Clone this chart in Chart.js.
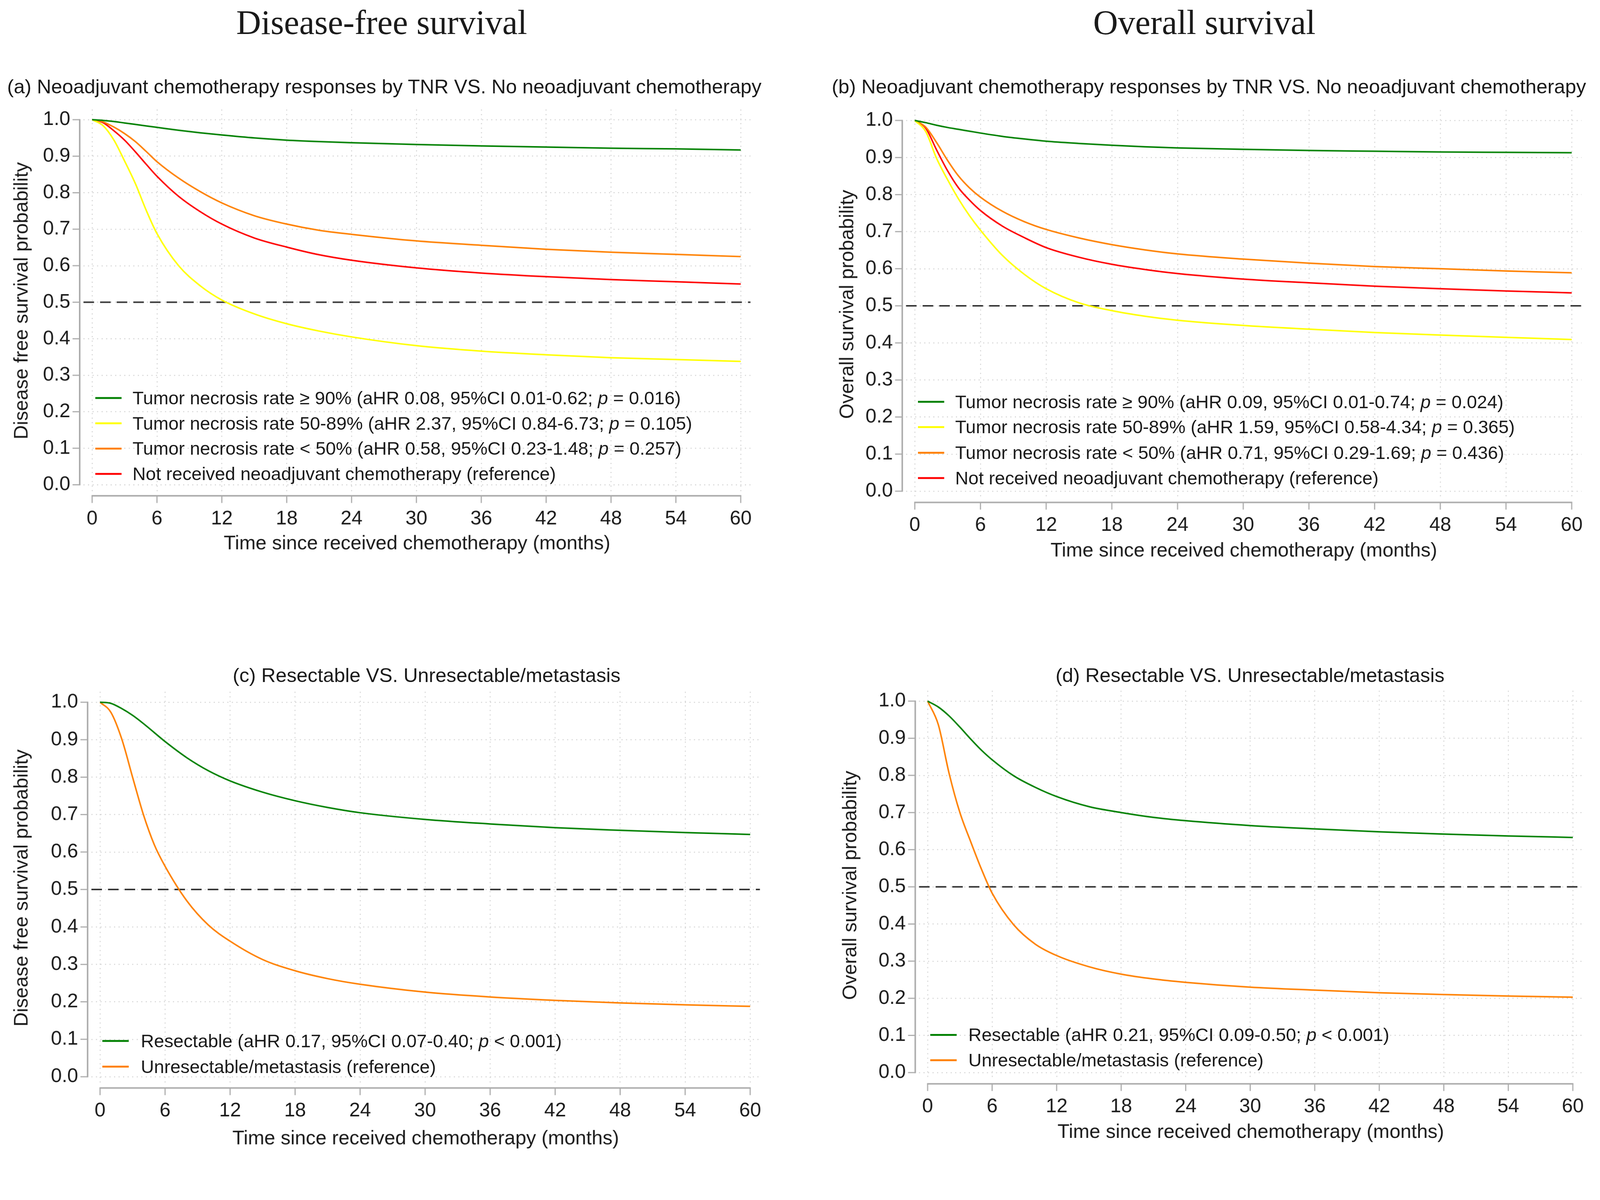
<!DOCTYPE html>
<html>
<head>
<meta charset="utf-8">
<script src="https://cdn.jsdelivr.net/npm/chart.js@4.4.1/dist/chart.umd.min.js"></script>
<style>
  html, body { margin: 0; padding: 0; background: #fff; overflow: hidden; }
  #page { width: 4238px; height: 3072px; position: absolute; left: 0; top: 0; overflow: hidden;
          transform-origin: 0 0; font-family: "Liberation Sans", Arial, sans-serif; color: #1a1a1a; }
  canvas { position: absolute; }
  .col-head { position: absolute; font-family: "Liberation Serif", serif; font-size: 91px;
              transform: translate(-50%, -50%); white-space: nowrap; line-height: 1; }
  .panel-title { position: absolute; font-size: 52.5px; transform: translate(-50%, -50%);
                 white-space: nowrap; line-height: 1; }
  .legend-row { position: absolute; display: flex; align-items: center; transform: translateY(-50%);
                font-size: 48.5px; white-space: nowrap; line-height: 1; }
  .legend-row .swatch { width: 70px; height: 5px; flex: none; }
</style>
</head>
<body>
<div id="page">
  <div class="col-head" style="left:1011px; top:59px;">Disease-free survival</div>
  <div class="col-head" style="left:3190px; top:59px;">Overall survival</div>
</div>

<script>
// ---- data ----
const months = [0, 1, 2, 3, 4, 5, 6, 8, 10, 12, 15, 18, 21, 24, 30, 36, 42, 48, 54, 60];
const xTicks = [0, 6, 12, 18, 24, 30, 36, 42, 48, 54, 60];
const yTicks = [0.0, 0.1, 0.2, 0.3, 0.4, 0.5, 0.6, 0.7, 0.8, 0.9, 1.0];
const medianLevel = 0.5;

// (a) disease-free survival by TNR
const dfsTnr90   = [1.0, 0.998, 0.995, 0.991, 0.987, 0.983, 0.979, 0.971, 0.964, 0.958, 0.950, 0.944, 0.940, 0.937, 0.932, 0.928, 0.925, 0.922, 0.920, 0.917];
const dfsTnr5089 = [1.0, 0.984, 0.945, 0.887, 0.825, 0.752, 0.688, 0.600, 0.545, 0.506, 0.468, 0.441, 0.421, 0.405, 0.381, 0.366, 0.356, 0.348, 0.343, 0.338];
const dfsTnrLt50 = [1.0, 0.994, 0.980, 0.962, 0.940, 0.913, 0.885, 0.840, 0.803, 0.772, 0.737, 0.714, 0.697, 0.686, 0.668, 0.656, 0.645, 0.637, 0.631, 0.625];
const dfsNoNeo   = [1.0, 0.992, 0.970, 0.944, 0.912, 0.878, 0.845, 0.790, 0.748, 0.714, 0.676, 0.651, 0.630, 0.615, 0.594, 0.580, 0.570, 0.562, 0.556, 0.550];

// (b) overall survival by TNR
const osTnr90   = [1.0, 0.994, 0.987, 0.981, 0.976, 0.971, 0.966, 0.957, 0.950, 0.944, 0.938, 0.933, 0.929, 0.926, 0.922, 0.919, 0.917, 0.915, 0.914, 0.913];
const osTnr5089 = [1.0, 0.970, 0.897, 0.840, 0.788, 0.743, 0.704, 0.636, 0.585, 0.546, 0.508, 0.487, 0.472, 0.461, 0.447, 0.437, 0.428, 0.421, 0.415, 0.409];
const osTnrLt50 = [1.0, 0.982, 0.940, 0.892, 0.850, 0.818, 0.793, 0.755, 0.727, 0.706, 0.683, 0.665, 0.651, 0.640, 0.626, 0.615, 0.606, 0.600, 0.594, 0.589];
const osNoNeo   = [1.0, 0.979, 0.920, 0.864, 0.818, 0.785, 0.757, 0.715, 0.684, 0.657, 0.631, 0.612, 0.598, 0.587, 0.572, 0.562, 0.553, 0.546, 0.540, 0.535];

// (c) disease-free survival by resectability
const dfsResect   = [1.0, 0.997, 0.983, 0.965, 0.943, 0.919, 0.895, 0.852, 0.817, 0.790, 0.760, 0.737, 0.719, 0.705, 0.687, 0.675, 0.665, 0.658, 0.652, 0.647];
const dfsUnresect = [1.0, 0.973, 0.902, 0.800, 0.700, 0.620, 0.562, 0.470, 0.405, 0.362, 0.313, 0.283, 0.262, 0.247, 0.226, 0.213, 0.204, 0.197, 0.192, 0.188];

// (d) overall survival by resectability
const osResect   = [1.0, 0.984, 0.960, 0.930, 0.898, 0.868, 0.842, 0.799, 0.768, 0.743, 0.716, 0.700, 0.687, 0.678, 0.665, 0.656, 0.648, 0.642, 0.637, 0.633];
const osUnresect = [1.0, 0.936, 0.805, 0.700, 0.622, 0.548, 0.483, 0.398, 0.346, 0.315, 0.285, 0.265, 0.252, 0.243, 0.230, 0.222, 0.215, 0.210, 0.206, 0.203];

const tnrLabelsDfs = [
  'Tumor necrosis rate \u2265 90% (aHR 0.08, 95%CI 0.01-0.62; p = 0.016)',
  'Tumor necrosis rate 50-89% (aHR 2.37, 95%CI 0.84-6.73; p = 0.105)',
  'Tumor necrosis rate < 50% (aHR 0.58, 95%CI 0.23-1.48; p = 0.257)',
  'Not received neoadjuvant chemotherapy (reference)'
];
const tnrLabelsOs = [
  'Tumor necrosis rate \u2265 90% (aHR 0.09, 95%CI 0.01-0.74; p = 0.024)',
  'Tumor necrosis rate 50-89% (aHR 1.59, 95%CI 0.58-4.34; p = 0.365)',
  'Tumor necrosis rate < 50% (aHR 0.71, 95%CI 0.29-1.69; p = 0.436)',
  'Not received neoadjuvant chemotherapy (reference)'
];
const resectLabelsDfs = ['Resectable (aHR 0.17, 95%CI 0.07-0.40; p < 0.001)', 'Unresectable/metastasis (reference)'];
const resectLabelsOs  = ['Resectable (aHR 0.21, 95%CI 0.09-0.50; p < 0.001)', 'Unresectable/metastasis (reference)'];

// ---- styling ----
const GREEN = '#008000', YELLOW = '#ffff00', ORANGE = '#ff8000', RED = '#ff0000';
const FONT = '"Liberation Sans", Arial, sans-serif';
const TEXT = '#1a1a1a';
const xMin = -0.8, xMax = 60.9, yMin = -0.02, yMax = 1.028;
const xTitle = 'Time since received chemotherapy (months)';

// fit the 4238x3072 layout into whatever viewport we get
const page = document.getElementById('page');
const fit = Math.min(window.innerWidth / 4238, window.innerHeight / 3072) || 1;
if (fit < 0.999) page.style.transform = 'scale(' + fit + ')';
const dpr = (window.devicePixelRatio || 1) * Math.max(fit, 1);

// Stata-like axes: offset axis lines + median reference line
const stataAxes = {
  id: 'stataAxes',
  beforeDatasetsDraw(chart) {
    const {ctx, chartArea: a, scales: {y}} = chart;
    const ym = y.getPixelForValue(medianLevel);
    ctx.save();
    ctx.strokeStyle = '#333';
    ctx.lineWidth = 4;
    ctx.setLineDash([28, 16]);
    ctx.beginPath();
    ctx.moveTo(a.left, ym);
    ctx.lineTo(a.right, ym);
    ctx.stroke();
    ctx.restore();
  },
  afterDraw(chart) {
    const {ctx, chartArea: a, scales: {x, y}} = chart;
    const gap = 10, tick = 19;
    ctx.save();
    ctx.strokeStyle = '#ababab';
    ctx.lineWidth = 4;
    const yb = a.bottom + gap;
    ctx.beginPath();
    ctx.moveTo(x.getPixelForValue(xTicks[0]) - 1.5, yb);
    ctx.lineTo(x.getPixelForValue(xTicks[xTicks.length - 1]) + 1.5, yb);
    ctx.stroke();
    const xl = a.left - gap;
    ctx.beginPath();
    ctx.moveTo(xl, y.getPixelForValue(yTicks[0]) + 1.5);
    ctx.lineTo(xl, y.getPixelForValue(yTicks[yTicks.length - 1]) - 1.5);
    ctx.stroke();
    ctx.lineWidth = 3;
    ctx.beginPath();
    xTicks.forEach(v => {
      const px = x.getPixelForValue(v);
      ctx.moveTo(px, yb);
      ctx.lineTo(px, yb + tick);
    });
    yTicks.forEach(v => {
      const py = y.getPixelForValue(v);
      ctx.moveTo(xl, py);
      ctx.lineTo(xl - tick, py);
    });
    ctx.stroke();
    ctx.restore();
  }
};

function addLegend(chart, p) {
  chart.data.datasets.forEach((ds, i) => {
    const row = document.createElement('div');
    row.className = 'legend-row';
    row.style.left = p.legendX + 'px';
    row.style.top = p.legendRows[i] + 'px';
    const sw = document.createElement('span');
    sw.className = 'swatch';
    sw.style.background = ds.borderColor;
    sw.style.marginRight = (p.legendTextX - p.legendX - 70) + 'px';
    row.appendChild(sw);
    const txt = document.createElement('span');
    const parts = ds.label.split('; p ');
    txt.appendChild(document.createTextNode(parts[0] + (parts.length > 1 ? '; ' : '')));
    if (parts.length > 1) {
      const it = document.createElement('i');
      it.textContent = 'p';
      txt.appendChild(it);
      txt.appendChild(document.createTextNode(' ' + parts[1]));
    }
    row.appendChild(txt);
    page.appendChild(row);
  });
}

function makePanel(p) {
  const ux = (p.px60 - p.px0) / 60, uy = p.py0 - p.py1;
  const cl = p.px0 + xMin * ux, cr = p.px0 + xMax * ux;
  const ct = p.py1 - (yMax - 1) * uy, cb = p.py0 - yMin * uy;
  const half = 52 * 1.2 / 2;

  const title = document.createElement('div');
  title.className = 'panel-title';
  title.style.left = p.titleX + 'px';
  title.style.top = p.titleY + 'px';
  title.textContent = p.title;
  page.appendChild(title);

  const canvas = document.createElement('canvas');
  canvas.style.left = p.left + 'px'; canvas.style.top = p.top + 'px';
  canvas.style.width = p.w + 'px'; canvas.style.height = p.h + 'px';
  canvas.width = p.w; canvas.height = p.h;
  page.appendChild(canvas);

  const gridOpts = { color: '#d2d2d2', lineWidth: 2.5, drawTicks: false };
  const chart = new Chart(canvas, {
    type: 'line',
    data: {
      datasets: p.series.map(s => ({
        label: s.label,
        data: months.map((m, i) => ({x: m, y: s.values[i]})),
        borderColor: s.color,
        backgroundColor: s.color,
        borderWidth: 4,
        pointRadius: 0,
        cubicInterpolationMode: 'monotone',
        fill: false
      }))
    },
    options: {
      responsive: false,
      animation: false,
      devicePixelRatio: dpr,
      layout: { padding: { left: 0, top: ct - p.top, right: p.left + p.w - cr, bottom: 0 } },
      plugins: { legend: { display: false }, tooltip: { enabled: false } },
      scales: {
        x: {
          type: 'linear', min: xMin, max: xMax,
          afterBuildTicks: s => { s.ticks = xTicks.map(v => ({value: v})); },
          afterFit: s => { s.height = p.top + p.h - cb; },
          grid: gridOpts,
          border: { display: false, dash: [3, 9] },
          ticks: { padding: 40, color: TEXT, font: { size: 52, family: FONT }, maxRotation: 0, autoSkip: false,
                   callback: v => String(v) },
          title: { display: true, text: xTitle, color: TEXT, font: { size: 52, family: FONT },
                   padding: { top: 0, bottom: p.top + p.h - p.xTitleY - half } }
        },
        y: {
          type: 'linear', min: yMin, max: yMax,
          afterBuildTicks: s => { s.ticks = yTicks.map(v => ({value: v})); },
          afterFit: s => { s.width = cl - p.left; },
          grid: gridOpts,
          border: { display: false, dash: [3, 9] },
          ticks: { padding: 35, color: TEXT, font: { size: 52, family: FONT }, autoSkip: false,
                   callback: v => v.toFixed(1) },
          title: { display: true, text: p.yTitle, color: TEXT, font: { size: 52, family: FONT },
                   padding: { top: p.yTitleX - p.left - half, bottom: 0 } }
        }
      }
    },
    plugins: [stataAxes]
  });
  addLegend(chart, p);
  return chart;
}

const panels = [
  {
    title: '(a) Neoadjuvant chemotherapy responses by TNR VS. No neoadjuvant chemotherapy',
    titleX: 1018, titleY: 230,
    yTitle: 'Disease free survival probability',
    left: 0, top: 150, w: 2110, h: 1350,
    px0: 244, px60: 1962, py1: 317, py0: 1284,
    xTitleY: 1441, yTitleX: 59,
    legendX: 252, legendTextX: 351, legendRows: [1054, 1121, 1188, 1255],
    series: [
      {label: tnrLabelsDfs[0], values: dfsTnr90, color: GREEN},
      {label: tnrLabelsDfs[1], values: dfsTnr5089, color: YELLOW},
      {label: tnrLabelsDfs[2], values: dfsTnrLt50, color: ORANGE},
      {label: tnrLabelsDfs[3], values: dfsNoNeo, color: RED}
    ]
  },
  {
    title: '(b) Neoadjuvant chemotherapy responses by TNR VS. No neoadjuvant chemotherapy',
    titleX: 3202, titleY: 230,
    yTitle: 'Overall survival probability',
    left: 2130, top: 150, w: 2108, h: 1360,
    px0: 2423, px60: 4163, py1: 319, py0: 1301,
    xTitleY: 1460, yTitleX: 2246,
    legendX: 2431, legendTextX: 2530, legendRows: [1064, 1131, 1199, 1266],
    series: [
      {label: tnrLabelsOs[0], values: osTnr90, color: GREEN},
      {label: tnrLabelsOs[1], values: osTnr5089, color: YELLOW},
      {label: tnrLabelsOs[2], values: osTnrLt50, color: ORANGE},
      {label: tnrLabelsOs[3], values: osNoNeo, color: RED}
    ]
  },
  {
    title: '(c) Resectable VS. Unresectable/metastasis',
    titleX: 1130, titleY: 1789,
    yTitle: 'Disease free survival probability',
    left: 0, top: 1730, w: 2110, h: 1342,
    px0: 265, px60: 1987, py1: 1860, py0: 2852,
    xTitleY: 3017, yTitleX: 59,
    legendX: 271, legendTextX: 373, legendRows: [2757, 2825],
    series: [
      {label: resectLabelsDfs[0], values: dfsResect, color: GREEN},
      {label: resectLabelsDfs[1], values: dfsUnresect, color: ORANGE}
    ]
  },
  {
    title: '(d) Resectable VS. Unresectable/metastasis',
    titleX: 3311, titleY: 1789,
    yTitle: 'Overall survival probability',
    left: 2130, top: 1730, w: 2108, h: 1342,
    px0: 2457, px60: 4166, py1: 1857, py0: 2841,
    xTitleY: 3000, yTitleX: 2254,
    legendX: 2464, legendTextX: 2565, legendRows: [2741, 2808],
    series: [
      {label: resectLabelsOs[0], values: osResect, color: GREEN},
      {label: resectLabelsOs[1], values: osUnresect, color: ORANGE}
    ]
  }
];

panels.forEach(makePanel);
</script>
</body>
</html>
